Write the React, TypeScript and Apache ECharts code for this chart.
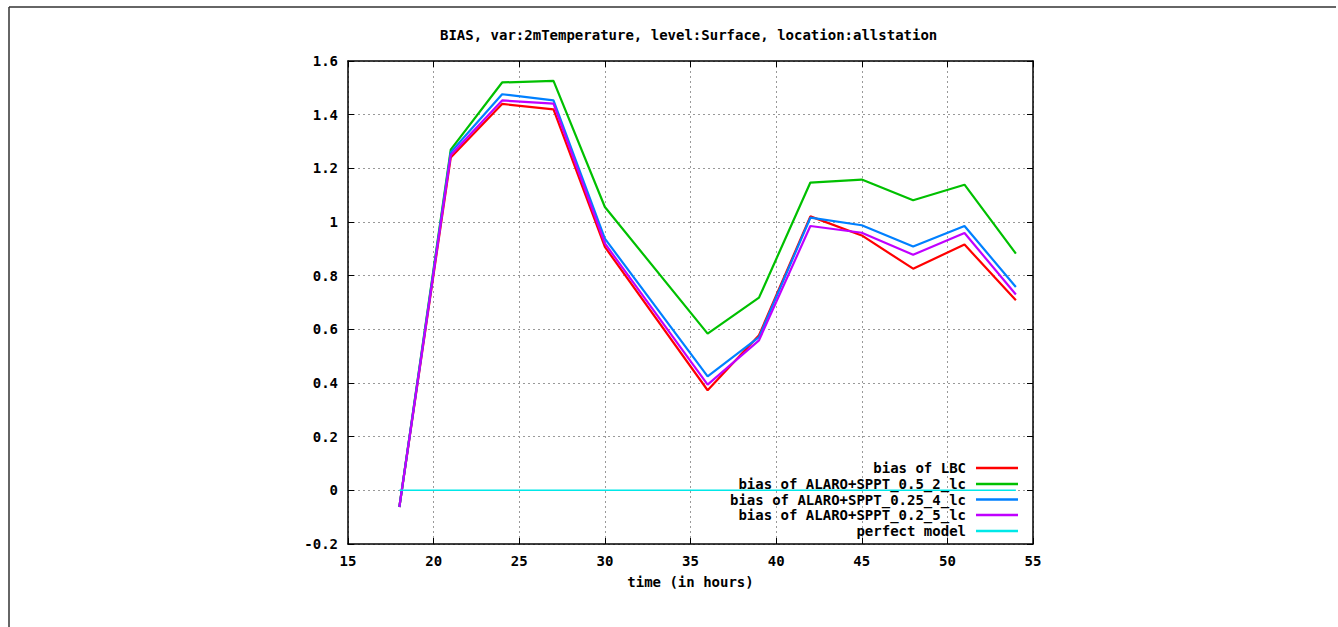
import React, { useEffect, useRef } from "react";
import * as echarts from "echarts";

const hours = [18, 21, 24, 27, 30, 36, 39, 42, 45, 48, 51, 54];
const biasLBC = [-0.062, 1.24, 1.44, 1.42, 0.907, 0.373, 0.578, 1.021, 0.95, 0.826, 0.916, 0.708];
const biasSPPT_0_5_2 = [-0.062, 1.27, 1.52, 1.526, 1.056, 0.584, 0.718, 1.147, 1.158, 1.081, 1.139, 0.882];
const biasSPPT_0_25_4 = [-0.062, 1.26, 1.476, 1.453, 0.938, 0.425, 0.571, 1.016, 0.988, 0.909, 0.985, 0.758];
const biasSPPT_0_2_5 = [-0.062, 1.25, 1.453, 1.441, 0.92, 0.394, 0.559, 0.985, 0.96, 0.878, 0.959, 0.73];
const perfectModel = [0, 0, 0, 0, 0, 0, 0, 0, 0, 0, 0, 0];

const seriesNames = [
  "bias of LBC",
  "bias of ALARO+SPPT_0.5_2_lc",
  "bias of ALARO+SPPT_0.25_4_lc",
  "bias of ALARO+SPPT_0.2_5_lc",
  "perfect model",
];
const seriesValues = [biasLBC, biasSPPT_0_5_2, biasSPPT_0_25_4, biasSPPT_0_2_5, perfectModel];
const seriesColors = ["#ff0000", "#00c000", "#0080ff", "#c000ff", "#00e8e8"];

const FONT = "DejaVu Sans Mono";

export default function App() {
  const ref = useRef<HTMLDivElement>(null);
  useEffect(() => {
    if (!ref.current) return;
    const chart = echarts.init(ref.current, null, { renderer: "svg" });
    const textStyle = { fontFamily: FONT, fontWeight: "bold" as const, fontSize: 14, color: "#000" };
    const legendCenters = [468, 484, 499.5, 515, 531];
    const option: any = {
      animation: false,
      backgroundColor: "#fff",
      title: {
        text: "BIAS, var:2mTemperature, level:Surface, location:allstation",
        left: 440,
        top: 28,
        padding: 0,
        textStyle: { ...textStyle },
      },
      legend: seriesNames.map((n, i) => ({
        data: [n],
        orient: "vertical",
        align: "right",
        right: 320,
        top: legendCenters[i] - 7,
        padding: 0,
        icon: "rect",
        itemWidth: 42,
        itemHeight: 2.5,
        selectedMode: false,
        textStyle: { ...textStyle, padding: [0, 5, 0, 0], lineHeight: 14 },
      })),
      grid: { left: 348, right: 1338 - 1033, top: 61, bottom: 627 - 544, containLabel: false },
      xAxis: [
        {
          type: "value",
          min: 15,
          max: 55,
          interval: 5,
          position: "bottom",
          name: "time (in hours)",
          nameLocation: "middle",
          nameGap: 31,
          nameTextStyle: { ...textStyle },
          axisLine: { onZero: false, lineStyle: { color: "#000", width: 1.5 } },
          axisTick: { inside: true, length: 6, lineStyle: { color: "#000" } },
          axisLabel: { ...textStyle, margin: 10 },
          splitLine: { show: true, lineStyle: { color: "#999", type: [2, 3], width: 1 } },
        },
        {
          type: "value",
          min: 15,
          max: 55,
          interval: 5,
          position: "top",
          axisLine: { onZero: false, lineStyle: { color: "#000", width: 1.5 } },
          axisTick: { inside: true, length: 6, lineStyle: { color: "#000" } },
          axisLabel: { show: false },
          splitLine: { show: false },
        },
      ],
      yAxis: [
        {
          type: "value",
          min: -0.2,
          max: 1.6,
          interval: 0.2,
          position: "left",
          axisLine: { show: true, onZero: false, lineStyle: { color: "#000", width: 1.5 } },
          axisTick: { show: true, inside: true, length: 6, lineStyle: { color: "#000" } },
          axisLabel: { ...textStyle, margin: 10 },
          splitLine: { show: true, lineStyle: { color: "#999", type: [2, 3], width: 1 } },
        },
        {
          type: "value",
          min: -0.2,
          max: 1.6,
          interval: 0.2,
          position: "right",
          axisLine: { show: true, onZero: false, lineStyle: { color: "#000", width: 1.5 } },
          axisTick: { show: true, inside: true, length: 6, lineStyle: { color: "#000" } },
          axisLabel: { show: false },
          splitLine: { show: false },
        },
      ],
      series: seriesNames.map((n, i) => ({
        name: n,
        type: "line",
        xAxisIndex: 0,
        yAxisIndex: 0,
        symbol: "none",
        color: seriesColors[i],
        lineStyle: { color: seriesColors[i], width: i === 4 ? 1.5 : 2.2 },
        data: hours.map((h, j) => [h, seriesValues[i][j]]),
      })),
      graphic: [
        { type: "line", shape: { x1: 9, y1: 7, x2: 9, y2: 627 }, style: { stroke: "#333", lineWidth: 1.5 } },
        { type: "line", shape: { x1: 9, y1: 7, x2: 1336, y2: 7 }, style: { stroke: "#333", lineWidth: 1.5 } },
      ],
    };
    chart.setOption(option);
    return () => chart.dispose();
  }, []);
  return (
    <div
      ref={ref}
      style={{ position: "fixed", left: 0, top: 0, width: 1338, height: 627, background: "#fff" }}
    />
  );
}
